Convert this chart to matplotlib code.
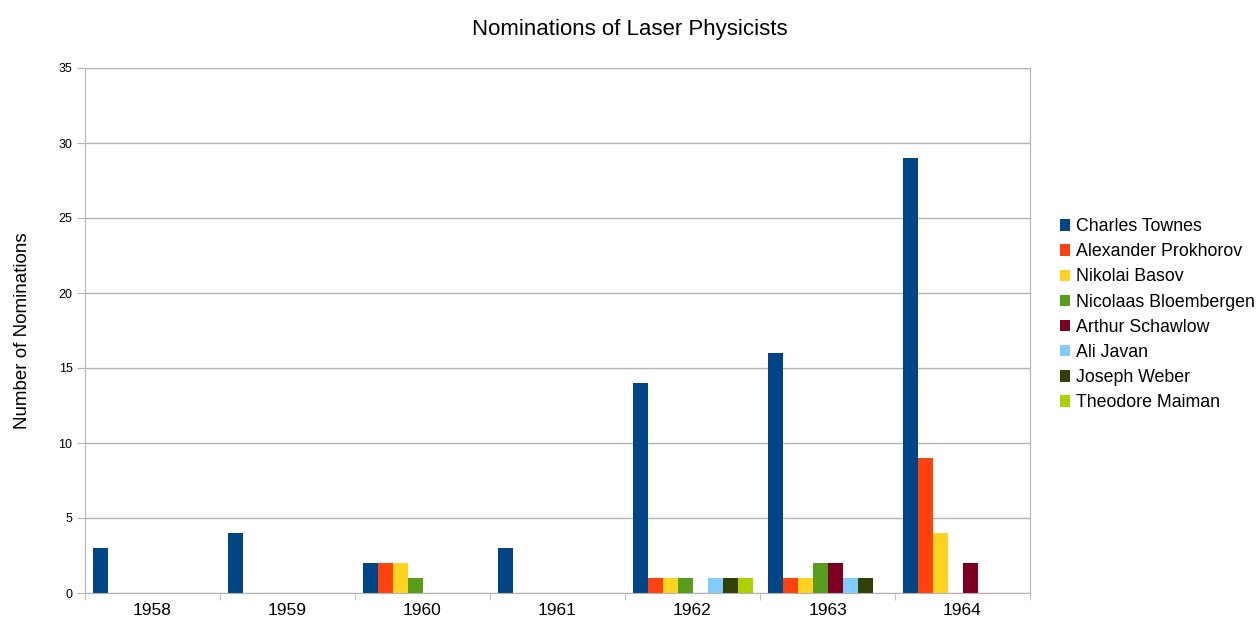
"""
Nominations of Laser Physicists - grouped bar chart
"""
import matplotlib
matplotlib.use('Agg')
import matplotlib.pyplot as plt
import numpy as np

plt.rcParams['font.family'] = ['Liberation Sans', 'DejaVu Sans']

# data
years = ['1958', '1959', '1960', '1961', '1962', '1963', '1964']
names = ['Charles Townes', 'Alexander Prokhorov', 'Nikolai Basov',
         'Nicolaas Bloembergen', 'Arthur Schawlow', 'Ali Javan',
         'Joseph Weber', 'Theodore Maiman']
townes = [3, 4, 2, 3, 14, 16, 29]
prokhorov = [0, 0, 2, 0, 1, 1, 9]
basov = [0, 0, 2, 0, 1, 1, 4]
bloembergen = [0, 0, 1, 0, 1, 2, 0]
schawlow = [0, 0, 0, 0, 0, 2, 2]
javan = [0, 0, 0, 0, 1, 1, 0]
weber = [0, 0, 0, 0, 1, 1, 0]
maiman = [0, 0, 0, 0, 1, 0, 0]
series = [townes, prokhorov, basov, bloembergen, schawlow, javan, weber, maiman]
colors = ['#004586', '#ff420e', '#ffd320', '#579d1c', '#7e0021',
          '#83caff', '#314004', '#aecf00']

fig = plt.figure(figsize=(12.6, 6.2), dpi=100)
ax = fig.add_axes([85 / 1260, 27 / 620, 945 / 1260, 525 / 620])

n = len(series)
width = 1.0 / (n + 1)
x = np.arange(len(years))
for i, (vals, name, c) in enumerate(zip(series, names, colors)):
    offs = -0.5 + width / 2 + width * (i + 0.5)
    ax.bar(x + offs, vals, width=width, color=c, label=name, linewidth=0)

ax.set_xlim(-0.5, len(years) - 0.5)
ax.set_ylim(0, 35)
ax.set_yticks(range(0, 36, 5))
ax.set_xticks(x)
ax.set_xticklabels(years, fontsize=12.5)
ax.set_xticks(np.arange(-0.5, len(years)), minor=True)
ax.tick_params(axis='x', which='major', length=0, pad=7)
ax.tick_params(axis='x', which='minor', length=5, color='#b3b3b3')
ax.tick_params(axis='y', length=6, color='#b3b3b3', labelsize=9, pad=3)
ax.yaxis.grid(True, color='#b3b3b3', linewidth=1)
ax.set_axisbelow(True)
for s in ax.spines.values():
    s.set_color('#b3b3b3')

ax.set_ylabel('Number of Nominations', fontsize=13.5, labelpad=20)
fig.suptitle('Nominations of Laser Physicists', fontsize=16, y=0.97)

leg = ax.legend(loc='center left', bbox_to_anchor=(1.024, 0.53), frameon=False,
                fontsize=12.8, handlelength=0.6, handleheight=0.6,
                handletextpad=0.3, labelspacing=0.46, borderaxespad=0)

plt.savefig('out.png', dpi=100)
plt.close()
